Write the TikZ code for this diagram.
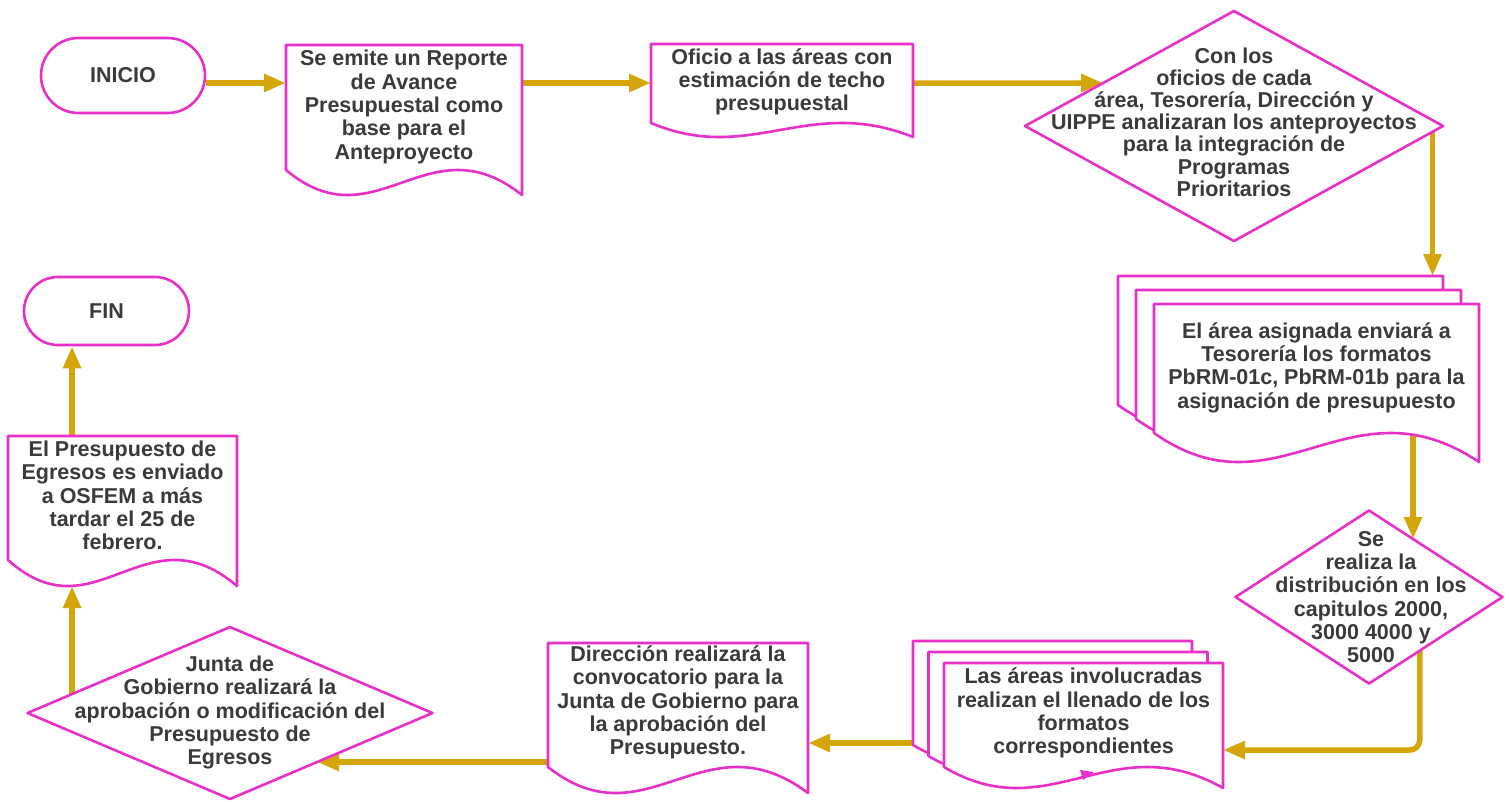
\documentclass[tikz,border=0pt]{standalone}
\usepackage{fontspec}
\setmainfont{Liberation Sans}
\usetikzlibrary{arrows.meta,shapes.geometric,shapes.misc,calc}

\definecolor{edgepink}{RGB}{232,48,200}
\definecolor{flowgold}{RGB}{212,166,10}
\definecolor{textgray}{RGB}{58,58,58}

\pgfdeclarelayer{connectors}
\pgfdeclarelayer{outlines}
\pgfsetlayers{connectors,outlines,main}

\tikzset{
  shapeline/.style={draw=edgepink, line width=2.6pt, fill=white, line join=round},
  flow/.style={draw=flowgold, line width=5.5pt, -{Triangle[length=22pt,width=17pt]}},
  lbl/.style={text=textgray, font=\fontsize{21.5}{23.3}\selectfont\bfseries, align=center},
  docnode/.style={rectangle, inner sep=0pt, outer sep=0pt, lbl},
  terminal/.style={rounded rectangle, shapeline, lbl, inner sep=0pt},
  decision/.style={diamond, shapeline, inner sep=0pt, outer sep=0pt},
}

% outline of a document symbol: node, drop of the left corner, depth of the wave
\newcommand\docoutline[3]{%
  \filldraw[shapeline] ($(#1.south west)+(0,#2)$) -- (#1.north west) -- (#1.north east)
    -- ($(#1.south east)+(0,#2+#3)$)
    .. controls ($(#1.south west)!0.6!(#1.south east)+(0,#2-2*#3)$)
    and ($(#1.south west)!0.38!(#1.south east)+(0,#2+3*#3)$)
    .. ($(#1.south west)+(0,#2)$) -- cycle;}

\begin{document}
\begin{tikzpicture}[x=1pt, y=-1pt]
\useasboundingbox (0,0) rectangle (1509,801);

% terminals
\node[terminal, minimum width=164pt, minimum height=75pt] (inicio) at (123,75.5) {INICIO};
\node[terminal, minimum width=165pt, minimum height=68pt] (fin) at (106.5,311) {FIN};

% documents
\node[docnode, minimum width=236pt, minimum height=124pt] (doc1) at (404,107)
  {Se emite un Reporte\\de Avance\\Presupuestal como\\base para el\\Anteproyecto};
\node[docnode, minimum width=262pt, minimum height=76pt] (doc2) at (782,82)
  {Oficio a las áreas con\\estimación de techo\\presupuestal};
\node[docnode, minimum width=260pt, minimum height=119pt] (dirdoc) at (678,702.5)
  {Dirección realizará la\\convocatorio para la\\Junta de Gobierno para\\la aprobación del\\Presupuesto.};
\node[docnode, minimum width=229pt, minimum height=119pt] (doc4) at (122.5,495.5)
  {El Presupuesto de\\Egresos es enviado\\a OSFEM a más\\tardar el 25 de\\febrero.};

% multi-documents (back, middle, front)
\node[docnode, minimum width=325pt, minimum height=127pt] (mdocAback) at (1280.5,339.5) {};
\node[docnode, minimum width=325pt, minimum height=127pt] (mdocAmid) at (1298.5,353.5) {};
\node[docnode, minimum width=325pt, minimum height=127pt] (mdocA) at (1316.5,367.5)
  {El área asignada enviará a\\Tesorería los formatos\\PbRM-01c, PbRM-01b para la\\asignación de presupuesto};
\node[docnode, minimum width=279pt, minimum height=100pt] (mdocBback) at (1052.5,691) {};
\node[docnode, minimum width=279pt, minimum height=100pt] (mdocBmid) at (1068,702) {};
\node[docnode, minimum width=279pt, minimum height=100pt] (mdocB) at (1083.5,713)
  {Las áreas involucradas\\realizan el llenado de los\\formatos\\correspondientes};

% decisions
\node[decision, minimum width=418pt, minimum height=230pt] (dia1) at (1234,126) {};
\node[lbl, font=\fontsize{21.5}{22.2}\selectfont\bfseries] (dia1txt) at (1234,122)
  {Con los\\oficios de cada\\área, Tesorería, Dirección y\\UIPPE analizaran los anteproyectos\\para la integración de\\Programas\\Prioritarios};
\node[decision, minimum width=267pt, minimum height=173pt] (dia2) at (1369,597) {};
\node[lbl] (dia2txt) at (1371,597)
  {Se\\realiza la\\distribución en los\\capitulos 2000,\\3000 4000 y\\5000};
\node[decision, minimum width=405pt, minimum height=172pt] (dia3) at (230,713) {};
\node[lbl] (dia3txt) at (230,712.5)
  {Junta de\\Gobierno realizará la\\aprobación o modificación del\\Presupuesto de\\Egresos};

\begin{pgfonlayer}{outlines}
  \docoutline{doc1}{1}{25}
  \docoutline{doc2}{3}{14}
  \docoutline{dirdoc}{5}{26}
  \docoutline{doc4}{5}{26}
  \docoutline{mdocAback}{2}{29}
  \docoutline{mdocAmid}{2}{29}
  \docoutline{mdocA}{2}{29}
  \docoutline{mdocBback}{4}{21}
  \docoutline{mdocBmid}{4}{21}
  \docoutline{mdocB}{4}{21}
  \fill[edgepink] (1080,770) -- (1094,772) -- (1083,780) -- cycle;
\end{pgfonlayer}

\begin{pgfonlayer}{connectors}
  \fill[white] (0,0) rectangle (1509,801);
  \coordinate (rowA) at (0,83);
  \coordinate (rowAend) at (1509,83);
  \coordinate (rowC) at (0,750);
  \coordinate (rowD) at (0,743);
  \coordinate (d1out) at ($(dia1.east)!0.05!(dia1.south)$);
  \coordinate (d2in) at ($(dia2.north)!0.33!(dia2.east)$);
  \coordinate (d2out) at ($(dia2.east)!0.62!(dia2.south)$);
  \coordinate (d3in) at ($(dia3.east)!0.57!(dia3.south)$);
  \coordinate (d3out) at ($(dia3.west)!0.22!(dia3.north)$);

  \draw[flow] (inicio.east |- rowA) -- (doc1.west |- rowA);
  \draw[flow] (doc1.east |- rowA) -- (doc2.west |- rowA);
  \draw[flow] (doc2.east |- rowA) -- (intersection of dia1.west--dia1.north and rowA--rowAend);
  \draw[flow] (d1out) -- (d1out |- mdocAback.north);
  \draw[flow] (d2in |- mdocA.south) -- (d2in);
  \draw[flow, rounded corners=10pt] (d2out) |- (mdocB.east |- rowC);
  \draw[flow] (mdocBback.west |- rowD) -- (dirdoc.east |- rowD);
  \draw[flow] (dirdoc.west |- d3in) -- (d3in);
  \draw[flow] (d3out) -- ($(d3out |- doc4.south)+(0,31)$);
  \draw[flow] (d3out |- doc4.north) -- (d3out |- fin.south);
\end{pgfonlayer}
\end{tikzpicture}
\end{document}
